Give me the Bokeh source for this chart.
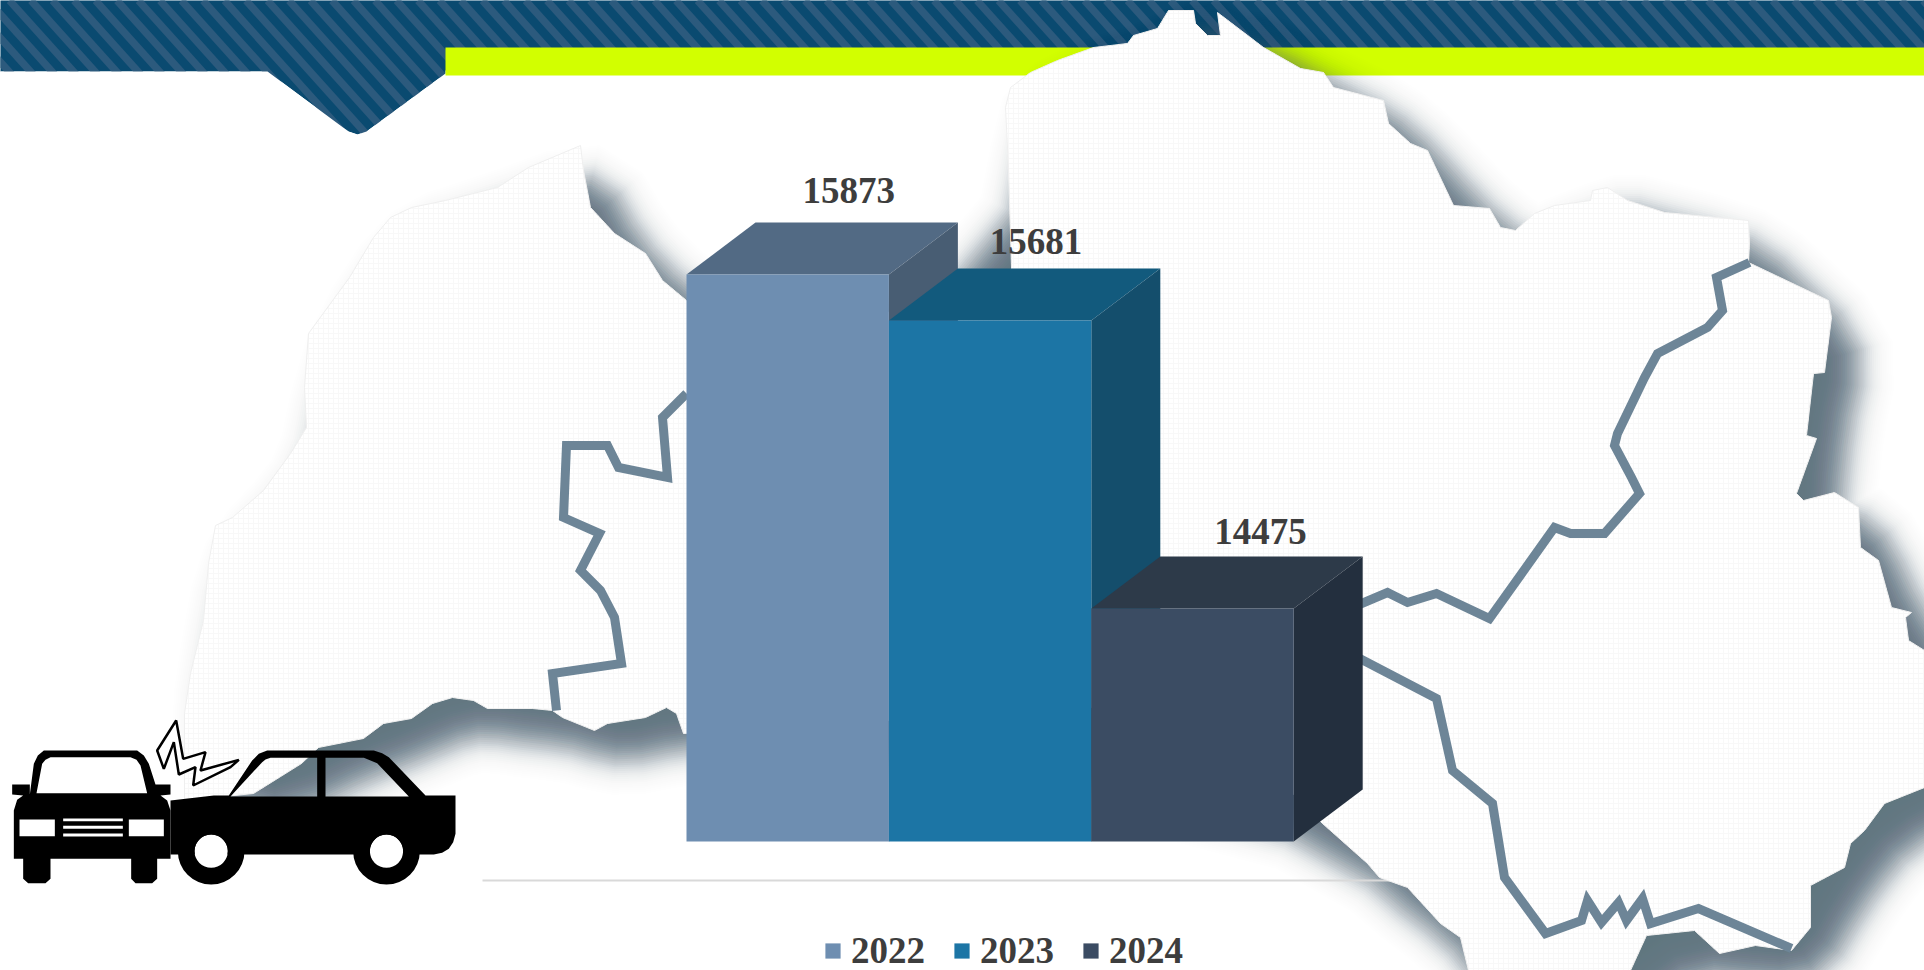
from bokeh.plotting import figure
from bokeh.models import Range1d, ColumnDataSource, Legend, LegendItem
from bokeh.embed import file_html
from bokeh.resources import INLINE
from bokeh.core.properties import value
import math

# ---- chart data ----
years = ["2022", "2023", "2024"]
totals = [15873, 15681, 14475]
front_colors = ["#6e8eb1", "#1c75a5", "#3b4c63"]
top_colors = ["#526a84", "#125a7d", "#2d3a49"]
side_colors = ["#485d73", "#144e6c", "#232f3e"]
label_dx = [61, 46, 68]
label_dy = [32, 27, 25]

# ---- page geometry ----
W, H = 1924, 970
AXIS_MIN = 13500
BASE_PX = 841.0
PX_PER_VALUE = 0.2389
BAR_PX = 202.4
FIRST_LEFT_PX = 686.0
DEPTH_PX_X, DEPTH_PX_Y = 69.0, 52.0

x0 = -0.5 - FIRST_LEFT_PX / BAR_PX
y_bottom = AXIS_MIN - (H - BASE_PX) / PX_PER_VALUE
y_top = AXIS_MIN + BASE_PX / PX_PER_VALUE
dx_u = DEPTH_PX_X / BAR_PX
dy_u = DEPTH_PX_Y / PX_PER_VALUE

p = figure(width=W, height=H, output_backend="svg", toolbar_location=None,
           x_range=Range1d(x0, x0 + W / BAR_PX), y_range=Range1d(y_bottom, y_top),
           min_border=0, outline_line_color=None, background_fill_color="white",
           border_fill_color="white")
p.extra_x_ranges = {"px": Range1d(0, W)}
p.extra_y_ranges = {"px": Range1d(H, 0)}
p.axis.visible = False
p.grid.visible = False
PX = dict(x_range_name="px", y_range_name="px")

# ---- decoration: banner (striped band, then masks for the notch) ----
STRIPE_H = 140
banner_shape = [(-20, -20), (W + 20, -20), (W + 20, 80), (445, 80), (445, 73), (366, 131), (357, 134), (348, 131), (267, 71), (-20, 71)]
p.patch([a for a, _ in banner_shape], [b for _, b in banner_shape], fill_color="#0a4a70", line_color=None, **PX)
starts = [9 + 21.5 * k for k in range(-8, 92)]
stripe_ends = [76 if s + 0.9 * 76 < 255 else STRIPE_H for s in starts]
p.multi_line([[s, s + 0.9 * e] for s, e in zip(starts, stripe_ends)], [[0, e] for e in stripe_ends],
             line_color="#2c5a7d", line_width=7.5, **PX)
mask = [(-20, 71), (267, 71), (348, 131), (357, 134), (366, 131), (445, 73), (445, 70), (W + 20, 70), (W + 20, 170), (-20, 170)]
p.patch([a for a, _ in mask], [b for _, b in mask], fill_color="white", line_color=None, **PX)
p.quad(left=445, right=W + 20, top=47, bottom=75, fill_color="#d2ff00", line_color=None, **PX)

# ---- decoration: paper map outline ----
paper = [
 (184, 800), (184, 713), (190, 673), (203, 620), (208, 563), (215, 525), (232, 517), (263, 490), (290, 453),
 (306, 427), (304, 387), (308, 333), (349, 277), (373, 237), (390, 217), (411, 207), (445, 200), (497, 187),
 (528, 167), (580, 145), (583, 170), (590, 207), (614, 233), (645, 253), (662, 280), (686, 300),
 (800, 320), (1012, 300), (1008, 167), (1005, 107), (1010, 87), (1030, 72), (1057, 60), (1093, 47), (1127, 43),
 (1133, 35), (1157, 28), (1168, 10), (1193, 10), (1195, 23), (1207, 35), (1220, 35), (1217, 12), (1263, 47),
 (1300, 68), (1323, 72), (1333, 87), (1383, 100), (1388, 123), (1410, 143), (1427, 150), (1453, 205), (1489, 208),
 (1500, 227), (1515, 230), (1534, 213), (1554, 205), (1590, 200), (1592, 190), (1607, 187), (1627, 200), (1664, 212),
 (1748, 220), (1749, 243), (1748, 262), (1828, 300), (1831, 317), (1824, 372), (1813, 373), (1806, 435), (1816, 438),
 (1796, 493), (1803, 500), (1834, 492), (1858, 507), (1860, 547), (1878, 560), (1891, 607), (1911, 612), (1905, 617),
 (1908, 640), (1924, 650), (1960, 700), (1960, 800), (1924, 787), (1884, 803), (1864, 830), (1850, 843), (1844, 867), (1810, 885), (1810, 927),
 (1791, 950), (1755, 945), (1719, 953), (1694, 930), (1646, 935), (1630, 970), (1620, 1010), (1480, 1010), (1468, 970), (1460, 937), (1440, 923),
 (1407, 887), (1379, 877), (1367, 863), (1322, 823), (1200, 700), (683, 733), (676, 713), (666, 707), (645, 717),
 (607, 723), (594, 730), (562, 717), (552, 710), (532, 708), (487, 708), (473, 700), (452, 697), (432, 703),
 (411, 718), (383, 723), (363, 738), (318, 747), (301, 763), (253, 793),
]
px_paper = [a for a, _ in paper]
py_paper = [b for _, b in paper]

def smooth(vals, rounds=2):
    out = list(vals)
    n = len(out)
    for _ in range(rounds):
        out = [(out[i - 1] + 2 * out[i] + out[(i + 1) % n]) / 4 for i in range(n)]
    return out

def offset_polygon(xs, ys, d):
    n = len(xs)
    area = sum(xs[i] * ys[(i + 1) % n] - xs[(i + 1) % n] * ys[i] for i in range(n))
    sgn = 1 if area > 0 else -1
    ox, oy = [], []
    for i in range(n):
        ax, ay = xs[i] - xs[i - 1], ys[i] - ys[i - 1]
        bx, by = xs[(i + 1) % n] - xs[i], ys[(i + 1) % n] - ys[i]
        la, lb = math.hypot(ax, ay) or 1, math.hypot(bx, by) or 1
        n1 = (sgn * ay / la, -sgn * ax / la)
        n2 = (sgn * by / lb, -sgn * bx / lb)
        mx, my = n1[0] + n2[0], n1[1] + n2[1]
        m = math.hypot(mx, my) or 1
        ox.append(xs[i] + d * mx / m)
        oy.append(ys[i] + d * my / m)
    return ox, oy

SHADOW_SHIFT = 26
SIGMA = 17.0
sm_x, sm_y = smooth(px_paper), smooth(py_paper)
for d in range(-44, 54, 2):
    a = 0.082 * math.exp(-(d / SIGMA) ** 2 / 2)
    ox, oy = offset_polygon(sm_x, sm_y, d)
    p.patch([v + SHADOW_SHIFT for v in ox], [v + SHADOW_SHIFT for v in oy], fill_color="#4d6575", fill_alpha=a,
            line_color=None, **PX)

p.line([482, 1395], [880, 880], line_color="#d9d9d9", line_width=2, **PX)
p.patch(px_paper, py_paper, fill_color="#ffffff", line_color="#efefef", line_width=1,
        hatch_pattern="cross", hatch_color="#f8f8f8", hatch_scale=5, hatch_weight=1, **PX)

# region gaps
gaps = [
 [(686, 393), (662, 417), (667, 477), (618, 467), (607, 445), (566, 445), (563, 517), (599, 533), (580, 570), (600, 590),
  (614, 617), (621, 663), (552, 673), (556, 710)],
 [(1749, 262), (1716, 277), (1722, 310), (1707, 327), (1657, 353), (1644, 377), (1617, 433), (1614, 445), (1631, 477),
  (1639, 493), (1604, 533), (1570, 533), (1554, 527), (1489, 618), (1436, 593), (1407, 602), (1387, 592), (1340, 612)],
 [(1340, 648), (1436, 698), (1452, 770), (1492, 803), (1504, 877), (1545, 933), (1581, 920), (1587, 900), (1601, 922),
  (1618, 902), (1626, 920), (1642, 898), (1650, 923), (1698, 908), (1791, 948)],
]
p.multi_line([[a for a, _ in g] for g in gaps], [[b for _, b in g] for g in gaps],
             line_color="#6d8597", line_width=9, line_join="miter", **PX)

# ---- decoration: cars ----
def pts(raw):
    return [a / 3 for a, _ in raw], [700 + b / 3 for _, b in raw]

def arc_over(cx, cy, r, yb, n=16):
    a0 = math.asin((yb - cy) / r)
    out = []
    for k in range(n + 1):
        ang = a0 - (math.pi + 2 * a0) * k / n
        out.append((cx + r * math.cos(ang), cy + r * math.sin(ang)))
    return out

front_body = [(88, 282), (100, 190), (112, 165), (130, 150), (410, 150), (430, 165), (445, 190), (465, 252), (510, 252), (510, 282), (480, 285),
              (500, 300), (510, 330), (510, 475), (470, 475), (470, 535), (455, 548), (405, 548), (392, 535), (392, 475),
              (150, 475), (150, 535), (135, 548), (83, 548), (68, 535), (68, 475), (40, 475), (40, 330), (50, 298),
              (68, 285), (35, 282), (35, 252), (88, 252)]
holes_front = [
 [(108, 278), (125, 190), (135, 178), (150, 170), (390, 170), (408, 178), (420, 195), (440, 278)],
 [(57, 357), (163, 357), (163, 407), (57, 407)],
 [(385, 357), (490, 357), (490, 407), (385, 407)],
 [(188, 354), (367, 354), (367, 362), (188, 362)],
 [(188, 376), (367, 376), (367, 385), (188, 385)],
 [(188, 399), (367, 399), (367, 408), (188, 408)],
]
wheels_x = [632, 1158]
wheel_y = 452
side_body = ([(510, 300), (640, 285), (685, 285), (755, 180), (775, 160), (800, 150), (1120, 150), (1145, 158), (1165, 170), (1275, 285), (1365, 285),
              (1365, 400), (1358, 425), (1345, 445), (1325, 457), (1300, 462)]
             + arc_over(wheels_x[1], wheel_y, 50, 462) + arc_over(wheels_x[0], wheel_y, 50, 462) + [(510, 462)])
holes_side = [
 [(690, 288), (785, 185), (795, 177), (810, 172), (950, 172), (950, 288)],
 [(975, 288), (975, 172), (1090, 172), (1130, 188), (1225, 288)],
]
fx, fy = pts(front_body)
f_xs = [fx] + [pts(h)[0] for h in holes_front]
f_ys = [fy] + [pts(h)[1] for h in holes_front]
sx, sy = pts(side_body)
s_xs = [sx] + [pts(h)[0] for h in holes_side]
s_ys = [sy] + [pts(h)[1] for h in holes_side]
p.multi_polygons(xs=[[f_xs], [s_xs]], ys=[[f_ys], [s_ys]], fill_color="#000000", line_color=None, **PX)
p.annulus(x=[c / 3 for c in wheels_x], y=[700 + wheel_y / 3] * 2, inner_radius=50 / 3, outer_radius=100 / 3,
          fill_color="#000000", line_color=None, **PX)
bolt = [(470, 150), (527, 60), (548, 175), (615, 155), (600, 210), (715, 178), (690, 200), (578, 255), (585, 200),
        (535, 222), (520, 125), (490, 205)]
bx, by = pts(bolt)
p.patch(bx, by, fill_color="#ffffff", line_color="#000000", line_width=2.5, **PX)

# ---- 3D bars ----
items = []
for i in range(len(years)):
    v = totals[i]
    l, r = i - 0.5, i + 0.5
    p.patch([l, r, r + dx_u, l + dx_u], [v, v, v + dy_u, v + dy_u], fill_color=top_colors[i], line_color=None)
    p.patch([r, r + dx_u, r + dx_u, r], [v, v + dy_u, AXIS_MIN + dy_u, AXIS_MIN], fill_color=side_colors[i], line_color=None)
    rb = p.vbar(x=[i], top=[v], bottom=AXIS_MIN, width=1, fill_color=front_colors[i], line_color=None)
    items.append(LegendItem(label=years[i], renderers=[rb]))

src = ColumnDataSource(dict(x=list(range(3)), y=[v + dy_u for v in totals], t=[str(v) for v in totals],
                            xo=label_dx, yo=[-d for d in label_dy]))
p.text(x="x", y="y", text="t", x_offset="xo", y_offset="yo", source=src, text_font=value("Liberation Serif"),
       text_font_style="bold", text_font_size="37px", text_color="#3d3d3d", text_align="center", text_baseline="middle")

legend = Legend(items=items, orientation="horizontal", location=(823, -2), padding=0, margin=0, spacing=27,
                glyph_width=19, glyph_height=19, label_standoff=9, border_line_color=None,
                background_fill_alpha=0, label_text_font="Liberation Serif", label_text_font_style="bold",
                label_text_font_size="37px", label_text_color="#3d3d3d")
p.add_layout(legend, "center")

open("out.html", "w").write(file_html(p, INLINE))
